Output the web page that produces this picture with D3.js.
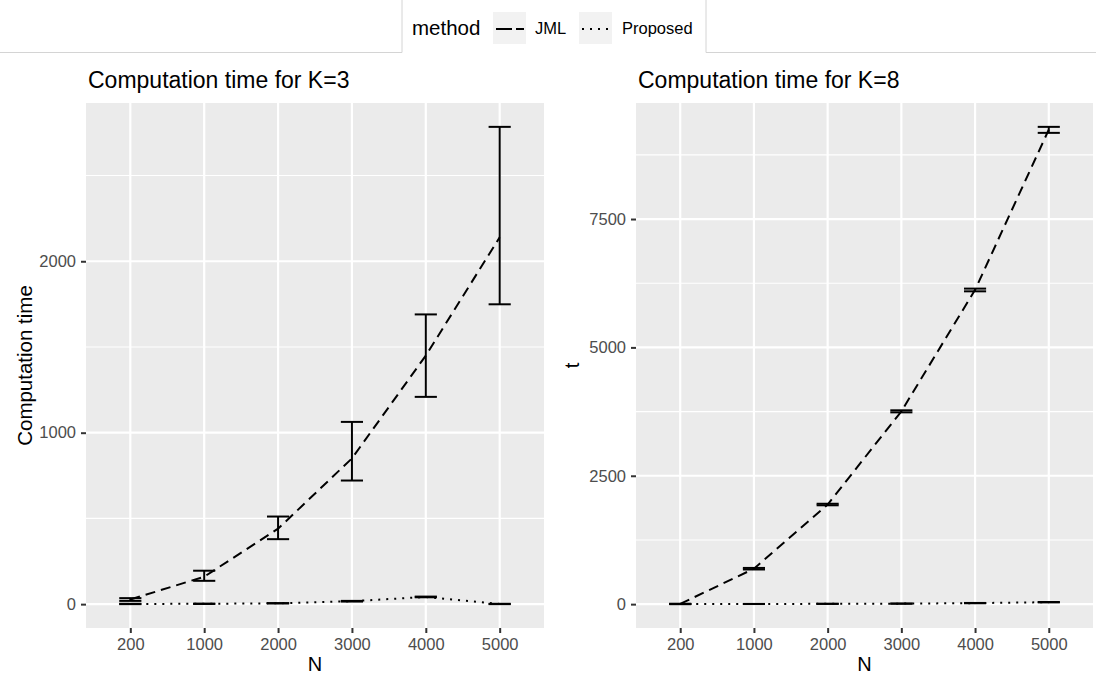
<!DOCTYPE html>
<html>
<head>
<meta charset="utf-8">
<script src="https://cdn.jsdelivr.net/npm/d3@7"></script>
<style>
body { margin: 0; background: white; }
text { font-family: "Liberation Sans", Arial, Helvetica, sans-serif; }
</style>
</head>
<body>
<div id="chart"></div>
<script>
var W = 1096, H = 676;

var nLabels = ["200", "1000", "2000", "3000", "4000", "5000"];
var methods = ["JML", "Proposed"];

// K = 3
var k3JmlMean  = [27, 160, 440, 850, 1450, 2140];
var k3JmlLo    = [19, 136, 379, 721, 1209, 1749];
var k3JmlHi    = [35, 195, 511, 1063, 1690, 2784];
var k3PropMean = [1, 2, 5, 17, 42, 1];
var k3PropLo   = [0, 1, 4, 15, 40, 0];
var k3PropHi   = [2, 3, 6, 19, 44, 2];

// K = 8
var k8JmlMean  = [5, 690, 1940, 3755, 6120, 9240];
var k8JmlLo    = [2, 675, 1925, 3735, 6092, 9178];
var k8JmlHi    = [8, 705, 1955, 3775, 6145, 9295];
var k8PropMean = [1, 3, 6, 10, 20, 38];
var k8PropLo   = [0, 2, 5, 8, 17, 34];
var k8PropHi   = [2, 4, 7, 12, 23, 42];

var dashes = { "JML": "10,6", "Proposed": "2,6" };

var svg = d3.select("#chart").append("svg")
    .attr("width", W)
    .attr("height", H);

svg.append("rect").attr("width", W).attr("height", H).style("fill", "white");

function series(mean, lo, hi){
    return nLabels.map(function(n, i){
        return { n: n, mean: mean[i], lo: lo[i], hi: hi[i] };
    });
}

function drawPanel(opts){
    var x0 = opts.x0, x1 = opts.x1, y0 = 103, y1 = 628;

    var all = [];
    opts.data.forEach(function(s){
        s.values.forEach(function(d){ all.push(d.lo, d.hi); });
    });
    var ext = d3.extent(all);
    var pad = (ext[1] - ext[0]) * 0.05;

    var x = d3.scalePoint().domain(nLabels).range([x0, x1]).padding(0.6);
    var y = d3.scaleLinear().domain([ext[0] - pad, ext[1] + pad]).range([y1, y0]);

    var g = svg.append("g");

    g.append("rect")
        .attr("x", x0).attr("y", y0)
        .attr("width", x1 - x0).attr("height", y1 - y0)
        .style("fill", "#ebebeb");

    var major = opts.ticks;
    var minor = [];
    for(var i = 0; i < major.length - 1; i++) minor.push((major[i] + major[i+1]) / 2);
    var step = major[1] - major[0];
    if(major[major.length-1] + step/2 < y.domain()[1]) minor.push(major[major.length-1] + step/2);
    if(major[0] - step/2 > y.domain()[0]) minor.unshift(major[0] - step/2);

    g.selectAll(".minor").data(minor).enter().append("line")
        .attr("x1", x0).attr("x2", x1)
        .attr("y1", function(d){ return y(d); })
        .attr("y2", function(d){ return y(d); })
        .style("stroke", "white").style("stroke-width", 1.1);

    g.selectAll(".majory").data(major).enter().append("line")
        .attr("x1", x0).attr("x2", x1)
        .attr("y1", function(d){ return y(d); })
        .attr("y2", function(d){ return y(d); })
        .style("stroke", "white").style("stroke-width", 2.2);

    g.selectAll(".majorx").data(nLabels).enter().append("line")
        .attr("x1", function(d){ return x(d); })
        .attr("x2", function(d){ return x(d); })
        .attr("y1", y0).attr("y2", y1)
        .style("stroke", "white").style("stroke-width", 2.2);

    // axes
    var yAxis = g.append("g")
        .attr("transform", "translate(" + x0 + ",0)")
        .call(d3.axisLeft(y).tickValues(major).tickFormat(d3.format("d")).tickSize(5).tickPadding(5));
    var xAxis = g.append("g")
        .attr("transform", "translate(0," + y1 + ")")
        .call(d3.axisBottom(x).tickSize(5).tickPadding(5));

    [xAxis, yAxis].forEach(function(a){
        a.select(".domain").remove();
        a.selectAll(".tick line").style("stroke", "#333333").style("stroke-width", 2);
        a.selectAll(".tick text")
            .style("fill", "#4d4d4d")
            .style("font-size", "16.5px")
            .style("font-family", "'Liberation Sans', Arial, sans-serif");
    });
    xAxis.selectAll(".tick text").attr("dy", "0.71em");

    var line = d3.line()
        .x(function(d){ return x(d.n); })
        .y(function(d){ return y(d.mean); });

    var bw = x.step() * 0.3;

    opts.data.forEach(function(s){
        g.append("path")
            .datum(s.values)
            .attr("d", line)
            .style("fill", "none")
            .style("stroke", "black")
            .style("stroke-width", 2)
            .style("stroke-dasharray", dashes[s.method]);

        var eb = g.selectAll(null).data(s.values).enter().append("g")
            .style("stroke", "black").style("stroke-width", 2);
        eb.append("line")
            .attr("x1", function(d){ return x(d.n); })
            .attr("x2", function(d){ return x(d.n); })
            .attr("y1", function(d){ return y(d.lo); })
            .attr("y2", function(d){ return y(d.hi); });
        eb.append("line")
            .attr("x1", function(d){ return x(d.n) - bw/2; })
            .attr("x2", function(d){ return x(d.n) + bw/2; })
            .attr("y1", function(d){ return y(d.lo); })
            .attr("y2", function(d){ return y(d.lo); });
        eb.append("line")
            .attr("x1", function(d){ return x(d.n) - bw/2; })
            .attr("x2", function(d){ return x(d.n) + bw/2; })
            .attr("y1", function(d){ return y(d.hi); })
            .attr("y2", function(d){ return y(d.hi); });
    });

    // titles
    g.append("text")
        .attr("x", x0 + 2).attr("y", 88)
        .style("font-size", "23px")
        .style("fill", "black")
        .text(opts.title);

    g.append("text")
        .attr("x", (x0 + x1) / 2).attr("y", 671)
        .attr("text-anchor", "middle")
        .style("font-size", "20px")
        .text("N");

    g.append("text")
        .attr("transform", "translate(" + opts.yTitleX + "," + ((y0 + y1) / 2) + ") rotate(-90)")
        .attr("text-anchor", "middle")
        .style("font-size", "20.5px")
        .text(opts.yTitle);
}

drawPanel({
    x0: 86, x1: 544,
    title: "Computation time for K=3",
    yTitle: "Computation time",
    yTitleX: 32,
    ticks: [0, 1000, 2000],
    data: [
        { method: "JML", values: series(k3JmlMean, k3JmlLo, k3JmlHi) },
        { method: "Proposed", values: series(k3PropMean, k3PropLo, k3PropHi) }
    ]
});

drawPanel({
    x0: 636, x1: 1093,
    title: "Computation time for K=8",
    yTitle: "t",
    yTitleX: 579,
    ticks: [0, 2500, 5000, 7500],
    data: [
        { method: "JML", values: series(k8JmlMean, k8JmlLo, k8JmlHi) },
        { method: "Proposed", values: series(k8PropMean, k8PropLo, k8PropHi) }
    ]
});

// legend
var lg = svg.append("g");
lg.append("line").attr("x1", 0).attr("x2", 402).attr("y1", 52.5).attr("y2", 52.5)
    .style("stroke", "#d4d4d4").style("stroke-width", 1);
lg.append("line").attr("x1", 706).attr("x2", W).attr("y1", 52.5).attr("y2", 52.5)
    .style("stroke", "#d4d4d4").style("stroke-width", 1);
[402, 706].forEach(function(xx){
    lg.append("line").attr("x1", xx).attr("x2", xx).attr("y1", 0).attr("y2", 52.5)
        .style("stroke", "#d4d4d4").style("stroke-width", 1);
});

lg.append("text").attr("x", 412).attr("y", 35)
    .style("font-size", "20.5px").text("method");

var keyX = [493, 579];
var labelX = [535, 622];
methods.forEach(function(m, i){
    lg.append("rect")
        .attr("x", keyX[i]).attr("y", 12)
        .attr("width", 33).attr("height", 32)
        .style("fill", "#f2f2f2");
    lg.append("line")
        .attr("x1", keyX[i] + 3).attr("x2", keyX[i] + 31)
        .attr("y1", 29).attr("y2", 29)
        .style("stroke", "black").style("stroke-width", 2)
        .style("stroke-dasharray", m == "JML" ? "16,4" : "2,6");
    lg.append("text")
        .attr("x", labelX[i]).attr("y", 34)
        .style("font-size", "16.5px")
        .style("fill", "black")
        .text(m);
});
</script>
</body>
</html>
